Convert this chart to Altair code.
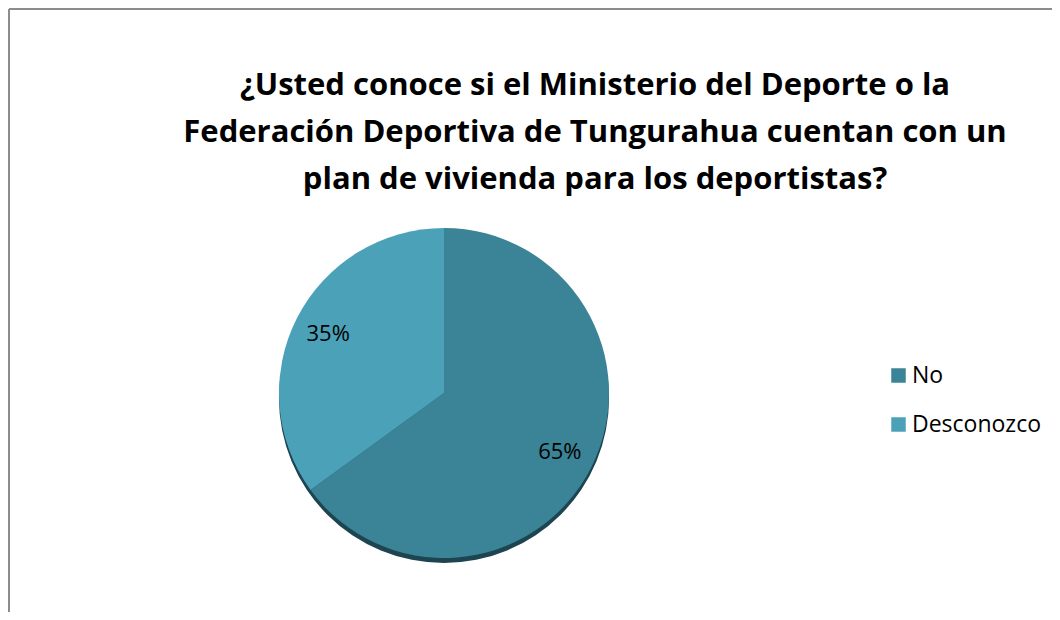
import altair as alt
import pandas as pd

categories = ["No", "Desconozco"]
values = [65, 35]
labels = ["65%", "35%"]
colors = ["#3b8396", "#4ba2b8"]
title_lines = [
    "¿Usted conoce si el Ministerio del Deporte o la",
    "Federación Deportiva de Tungurahua cuentan con un",
    "plan de vivienda para los deportistas?",
]

df = pd.DataFrame({"cat": categories, "val": values, "lab": labels,
                   "ord": list(range(len(categories)))})

CX, CY, R = 436, 385, 165
FONT = "Open Sans"

one = pd.DataFrame({"k": [0]})

frame_top = alt.Chart(one).mark_rule(color="#8c8c8c", strokeWidth=2).encode(
    x=alt.value(1), x2=alt.value(1044), y=alt.value(1))
frame_left = alt.Chart(one).mark_rule(color="#8c8c8c", strokeWidth=2).encode(
    x=alt.value(1), y=alt.value(1), y2=alt.value(604))

shadow = alt.Chart(one).mark_arc(
    theta=0, theta2=6.2832, outerRadius=R, color="#1d4451"
).encode(x=alt.value(CX), y=alt.value(CY + 5))

color_scale = alt.Scale(domain=categories, range=colors)

pie = alt.Chart(df).mark_arc(outerRadius=R, stroke=None).encode(
    x=alt.value(CX), y=alt.value(CY),
    theta=alt.Theta("val:Q", stack=True),
    order=alt.Order("ord:Q"),
    color=alt.Color(
        "cat:N", scale=color_scale, sort=categories,
        legend=alt.Legend(
            title=None, orient="none", legendX=879, legendY=356,
            symbolType="square", symbolSize=210, symbolStrokeWidth=0,
            labelFont=FONT, labelFontSize=23, labelColor="#000000",
            rowPadding=25, labelOffset=2,
        ),
    ),
)

text = alt.Chart(df).mark_text(
    radius=130, font=FONT, fontSize=22, color="#000000",
    align="center", baseline="middle",
).encode(
    x=alt.value(CX), y=alt.value(CY),
    theta=alt.Theta("val:Q", stack=True),
    order=alt.Order("ord:Q"),
    text="lab:N",
)

title = alt.Chart(one).mark_text(
    text=title_lines, font=FONT, fontSize=31, fontWeight="bold",
    color="#000000", align="center", baseline="middle", lineHeight=47,
).encode(x=alt.value(587), y=alt.value(78))

chart = alt.layer(frame_top, frame_left, title, shadow, pie, text).properties(
    width=1044, height=604, padding=0,
    autosize=alt.AutoSizeParams(type="none"),
).configure_view(stroke=None)

chart.save("out.html", embed_options={"renderer": "svg", "actions": False})
